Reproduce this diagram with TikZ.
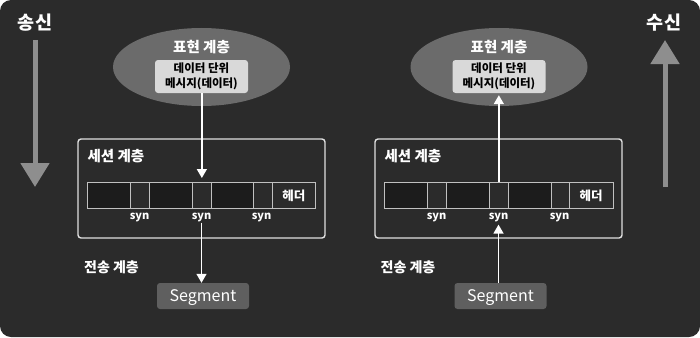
\documentclass[tikz,border=0pt]{standalone}
\usepackage{fontspec}
\setmainfont{Noto Sans CJK KR}
\usetikzlibrary{shapes.geometric,arrows.meta}
\definecolor{bgc}{HTML}{2B2B2B}
\definecolor{ellc}{HTML}{6B6B6B}
\definecolor{innerc}{HTML}{D9D9D9}
\definecolor{darkcell}{HTML}{1C1C1C}
\definecolor{segc}{HTML}{5F5F5F}
\definecolor{bigarr}{HTML}{8E8E8E}
\definecolor{framec}{HTML}{E0E0E0}
\definecolor{cellline}{HTML}{C0C0C0}
\tikzset{
  ell/.style={ellipse, fill=ellc, minimum width=177pt, minimum height=78pt, inner sep=0pt},
  inbox/.style={rounded corners=3pt, fill=innerc, minimum width=93pt, minimum height=33pt, inner sep=0pt, align=center, font=\fontsize{11.5}{14.5}\selectfont\bfseries, text=black},
  layer/.style={text=white, font=\fontsize{14.5}{16}\selectfont\bfseries},
  sessbox/.style={draw=framec, line width=1.4pt, rounded corners=3pt, minimum width=247pt, minimum height=99pt, inner sep=0pt},
  cellbox/.style={draw=cellline, line width=0.7pt, minimum height=26pt, inner sep=0pt, anchor=north west},
  datacell/.style={cellbox, fill=darkcell},
  syncell/.style={cellbox, fill=bgc},
  hdrcell/.style={cellbox, fill=bgc, text=white, font=\fontsize{12.5}{14}\selectfont\bfseries},
  synlbl/.style={text=white, font=\fontsize{11}{13}\selectfont\bfseries, inner sep=1pt},
  seg/.style={rounded corners=3pt, fill=segc, minimum width=92pt, minimum height=26pt, inner sep=0pt, text=white, font=\fontsize{16}{18}\selectfont, text height=13.5pt, text depth=3pt},
  trans/.style={text=white, font=\fontsize{14}{16}\selectfont\bfseries},
  side/.style={text=white, font=\fontsize{18.5}{20}\selectfont\bfseries},
  flow/.style={white, line width=1.5pt, -{Triangle[width=10pt,length=9pt]}},
  big/.style={bigarr, line width=5pt, -{Triangle[width=28pt,length=24pt]}}
}
\begin{document}
\begin{tikzpicture}[x=1pt,y=-1pt]
\fill[white] (0,0) rectangle (700,337);
\fill[bgc, rounded corners=11pt] (0,0) rectangle (700,337);
\useasboundingbox (0,0) rectangle (700,337);

% side labels and big arrows
\node[side] (send) at (35,23) {송신};
\node[side] (recv) at (664,23) {수신};
\coordinate (sendA) at (35,40);
\coordinate (sendB) at (35,187);
\coordinate (recvA) at (665,187);
\coordinate (recvB) at (665,40);
\draw[big] (sendA) -- (sendB);
\draw[big] (recvA) -- (recvB);

% ===== left panel =====
\node[ell] (lell) at (201.5,67) {};
\node[layer] (lpres) at (201.5,47) {표현 계층};
\node[inbox] (lin) at (201.5,76.5) {데이터 단위\\메시지(데이터)};
\node[sessbox] (lsess) at (201.5,188.5) {};
\node[layer, anchor=west] (lsesst) at (84,156) {세션 계층};
\node[datacell, minimum width=42.7pt] (lc1) at (87.3,182) {};
\node[syncell, minimum width=19pt] (lc2) at (130,182) {};
\node[datacell, minimum width=43.3pt] (lc3) at (149,182) {};
\node[syncell, minimum width=18.4pt] (lc4) at (192.3,182) {};
\node[datacell, minimum width=42.6pt] (lc5) at (210.7,182) {};
\node[syncell, minimum width=18.4pt] (lc6) at (253.3,182) {};
\node[hdrcell, minimum width=43.6pt] (lc7) at (271.7,182) {헤더};
\node[synlbl] (ls1) at (139.5,217) {syn};
\node[synlbl] (ls2) at (201.5,217) {syn};
\node[synlbl] (ls3) at (261.5,217) {syn};
\node[trans] (ltrans) at (111.5,267) {전송 계층};
\node[seg] (lseg) at (203,296) {Segment};
\draw[flow, shorten >=4pt] (lin.south -| lc4.north) -- (lc4.north);
\draw[flow] (ls2.south) -- (lseg.north -| ls2.south);

% ===== right panel =====
\node[ell] (rell) at (499,67) {};
\node[layer] (rpres) at (499,47) {표현 계층};
\node[inbox] (rin) at (499,76.5) {데이터 단위\\메시지(데이터)};
\node[sessbox] (rsess) at (498.5,188.5) {};
\node[layer, anchor=west] (rsesst) at (381,156) {세션 계층};
\node[datacell, minimum width=43pt] (rc1) at (384.3,182) {};
\node[syncell, minimum width=18.4pt] (rc2) at (427.3,182) {};
\node[datacell, minimum width=43.6pt] (rc3) at (445.7,182) {};
\node[syncell, minimum width=18.4pt] (rc4) at (489.3,182) {};
\node[datacell, minimum width=43pt] (rc5) at (507.7,182) {};
\node[syncell, minimum width=18pt] (rc6) at (550.7,182) {};
\node[hdrcell, minimum width=44pt] (rc7) at (568.7,182) {헤더};
\node[synlbl] (rs1) at (436.5,217) {syn};
\node[synlbl] (rs2) at (498.5,217) {syn};
\node[synlbl] (rs3) at (559.5,217) {syn};
\node[trans] (rtrans) at (408,267) {전송 계층};
\node[seg] (rseg) at (500.5,296) {Segment};
\draw[flow, shorten >=2pt] (rseg.north -| rs2.south) -- (rs2.south);
\draw[flow, shorten >=2pt] (rc4.north) -- (rin.south -| rc4.north);
\end{tikzpicture}
\end{document}
